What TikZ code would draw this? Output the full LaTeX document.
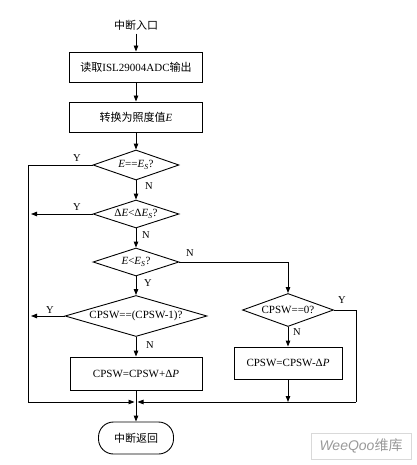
\documentclass[tikz,border=0pt]{standalone}
\usepackage{fontspec}
\setmainfont{Liberation Serif}
\newfontfamily\cjk{Noto Sans CJK SC}
\usetikzlibrary{shapes.geometric,arrows.meta}
\begin{document}
\begin{tikzpicture}[x=1pt,y=-1pt,
  every node/.style={font=\fontsize{11}{13}\selectfont},
  line/.style={line width=0.9pt},
  arr/.style={line width=0.9pt,-{Triangle[length=6pt,width=4.5pt]}},
  procbox/.style={draw,line width=0.9pt,rectangle,inner sep=0pt},
  decision/.style={draw,line width=0.9pt,diamond,inner sep=0pt,aspect=3},
  termbox/.style={draw,line width=0.9pt,rounded corners=15pt,inner sep=0pt},
  lbl/.style={inner sep=1pt,font=\fontsize{10.5}{12}\selectfont}]
\useasboundingbox (0,0) rectangle (416,465);
\node (start) at (136,25) {\cjk 中断入口};
\node[procbox,minimum width=133pt,minimum height=30pt] (b1) at (136,67) {{\cjk 读取}ISL29004ADC{\cjk 输出}};
\node[procbox,minimum width=133pt,minimum height=30pt] (b2) at (136,117) {{\cjk 转换为照度值}\textit{E}};
\node[decision,minimum width=86pt,minimum height=30pt] (d1) at (136,165) {\textit{E}==\textit{E}\textsubscript{\textit{S}}?};
\node[decision,minimum width=86pt,minimum height=28pt] (d2) at (136,214) {Δ\textit{E}<Δ\textit{E}\textsubscript{\textit{S}}?};
\node[decision,minimum width=86pt,minimum height=28pt] (d3) at (136,262) {\textit{E}<\textit{E}\textsubscript{\textit{S}}?};
\node[decision,minimum width=142pt,minimum height=40pt] (d5) at (136,316) {CPSW==(CPSW-1)?};
\node[procbox,minimum width=132pt,minimum height=33pt] (b3) at (136,373.5) {CPSW=CPSW+Δ\textit{P}};
\node[termbox,minimum width=75pt,minimum height=32pt] (end) at (136,438) {\cjk 中断返回};
\node[decision,minimum width=91pt,minimum height=33pt] (d4) at (288,310) {CPSW==0?};
\node[procbox,minimum width=108pt,minimum height=32pt] (b4) at (288,363) {CPSW=CPSW-Δ\textit{P}};
\coordinate (m) at (136,402);
\coordinate (lt) at (28,165);
\coordinate (lb) at (28,402);
\coordinate (a2) at (31,214);
\coordinate (a5) at (31,316);
\coordinate (rt) at (356,310);
\coordinate (rb) at (356,402);
\coordinate (b4m) at (288,402);
\draw[arr] (start) -- (b1);
\draw[arr] (b1) -- (b2);
\draw[arr] (b2) -- (d1);
\draw[arr] (d1) -- (d2);
\draw[arr] (d2) -- (d3);
\draw[arr] (d3) -- (d5);
\draw[arr] (d5) -- (b3);
\draw[arr] (b3) -- (end);
\draw[arr] (d2.west) -- (a2);
\draw[arr] (d5.west) -- (a5);
\draw[line] (d1.west) -- (lt) -- (lb);
\draw[arr,shorten >=1.5pt] (lb) -- (m);
\draw[arr] (d3.east) -| (d4.north);
\draw[line] (d4.east) -- (rt) -- (rb);
\draw[arr,shorten >=1.5pt] (rb) -- (m);
\draw[arr] (d4) -- (b4);
\draw[arr] (b4) -- (b4m);
\node[lbl] (y1) at (77,158) {Y};
\node[lbl] (n1) at (149,186) {N};
\node[lbl] (y2) at (77,207) {Y};
\node[lbl] (n2) at (146,235) {N};
\node[lbl] (n3) at (190,253) {N};
\node[lbl] (y3) at (148,283) {Y};
\node[lbl] (y5) at (50,310) {Y};
\node[lbl] (n5) at (150,345) {N};
\node[lbl] (y4) at (342,300) {Y};
\node[lbl] (n4) at (297,332) {N};
\node[draw=black!15,minimum width=100pt,minimum height=26pt,inner sep=0pt,text=black!40] (wm) at (361,446)
  {\fontsize{14}{16}\selectfont{\fontspec{Liberation Sans}\itshape WeeQoo}{\cjk 维库}};
\end{tikzpicture}
\end{document}
